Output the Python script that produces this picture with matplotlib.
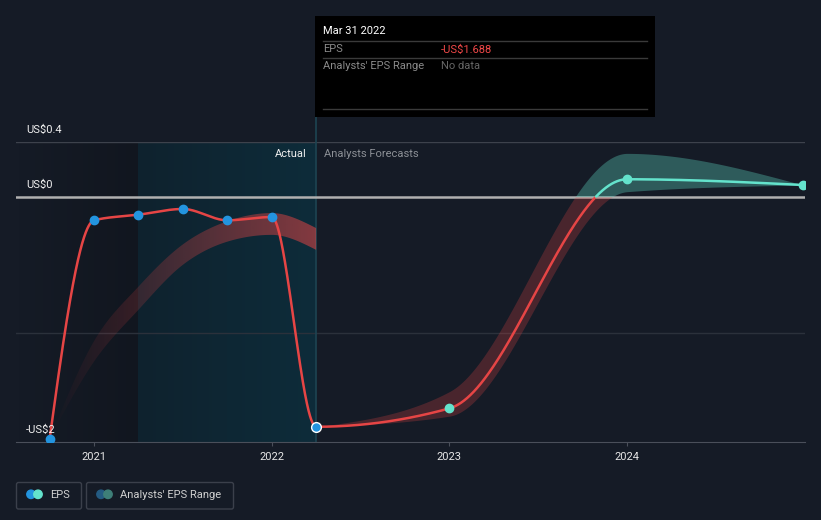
import numpy as np
import matplotlib.pyplot as plt
from matplotlib.patches import Rectangle, Circle, FancyBboxPatch, PathPatch

plt.rcParams['font.family'] = ['Roboto', 'DejaVu Sans']

# EPS (US$), quarter ends as decimal years; first 7 are actuals, the rest forecasts
dates = [2020.75, 2021.0, 2021.25, 2021.5, 2021.75, 2022.0, 2022.25, 2023.0, 2024.0, 2024.99]
eps = [-1.78, -0.173, -0.132, -0.090, -0.173, -0.149, -1.688, -1.553, 0.128, 0.086]
n_actual = 7

# past analyst estimate range
past_dates = [2020.75, 2021.0, 2021.25, 2021.5, 2021.75, 2022.0, 2022.25]
past_low = [-1.78, -1.21, -0.83, -0.50, -0.33, -0.28, -0.39]
past_high = [-1.78, -1.06, -0.66, -0.35, -0.18, -0.12, -0.23]

# forward analyst range
fc_dates = [2022.25, 2023.0, 2024.0, 2024.99]
fc_low = [-1.688, -1.61, 0.037, 0.086]
fc_high = [-1.688, -1.43, 0.318, 0.086]

year_ticks = [2021, 2022, 2023, 2024]
y_labels = [(0.4, "US$0.4"), (0.0, "US$0"), (-1.80, "-US$2")]

BG = "#151b26"
RED = "#e64545"
TEAL = "#64e3cc"
BLUE = "#2394df"


def monotone_x(x, y, n=200):
    # same curve as d3.curveMonotoneX
    x = np.asarray(x, float)
    y = np.asarray(y, float)
    h = np.diff(x)
    s = np.diff(y) / h
    m = np.zeros_like(y)
    for i in range(1, len(x) - 1):
        p = (s[i - 1] * h[i] + s[i] * h[i - 1]) / (h[i - 1] + h[i])
        m[i] = (np.sign(s[i - 1]) + np.sign(s[i])) * min(abs(s[i - 1]), abs(s[i]), 0.5 * abs(p))
    m[0] = (3 * s[0] - m[1]) / 2
    m[-1] = (3 * s[-1] - m[-2]) / 2
    xs, ys = [], []
    for i in range(len(h)):
        t = np.linspace(0, 1, n, endpoint=(i == len(h) - 1))
        h00 = 2 * t**3 - 3 * t**2 + 1
        h10 = t**3 - 2 * t**2 + t
        h01 = -2 * t**3 + 3 * t**2
        h11 = t**3 - t**2
        xs.append(x[i] + t * h[i])
        ys.append(h00 * y[i] + h10 * h[i] * m[i] + h01 * y[i + 1] + h11 * h[i] * m[i + 1])
    return np.concatenate(xs), np.concatenate(ys)


fig = plt.figure(figsize=(8.21, 5.2), dpi=100)
fig.patch.set_facecolor(BG)

ax = fig.add_axes([16 / 821, 77.7 / 520, 789 / 821, 300.1 / 520])
ax.set_facecolor("none")
xmin, xmax = 2020.5611, 2025.0011
ymin, ymax = -1.802, 0.40

# shaded background regions
g = np.zeros((1, 256, 4))
g[..., 3] = np.linspace(0.0, 0.18, 256)
ax.imshow(g, extent=[xmin, dates[2], ymin, ymax], aspect="auto", zorder=0)
g2 = np.zeros((1, 256, 4))
g2[..., 0] = np.linspace(15, 13, 256) / 255
g2[..., 1] = np.linspace(34, 44, 256) / 255
g2[..., 2] = np.linspace(46, 58, 256) / 255
g2[..., 3] = 1
ax.imshow(g2, extent=[dates[2], dates[n_actual - 1], ymin, ymax], aspect="auto", zorder=0)

# grid lines
ax.axhline(0.4, color="#3d424c", lw=1, zorder=1)
ax.axhline(-1.0, color="#2b313b", lw=1, zorder=1)
ax.axhline(0.0, color="#b0b0b0", lw=1.8, zorder=1.5)
ax.plot([dates[n_actual - 1]] * 2, [ymin, 0.585], color="#1d4452", lw=1.2,
        clip_on=False, zorder=1.2)

# past range band with gradient
px, plo = monotone_x(past_dates, past_low)
_, phi = monotone_x(past_dates, past_high)
band = ax.fill_between(px, plo, phi, color="none", lw=0)
clip = PathPatch(band.get_paths()[0], transform=ax.transData, facecolor="none", edgecolor="none")
ax.add_patch(clip)
gr = np.zeros((1, 256, 4))
gr[..., :3] = np.array([230, 69, 69]) / 255
gr[..., 3] = np.linspace(0.0, 0.55, 256)
im = ax.imshow(gr, extent=[past_dates[0], past_dates[-1], ymin, ymax], aspect="auto", zorder=2)
im.set_clip_path(clip)

# forecast range band
fx, flo = monotone_x(fc_dates, fc_low)
_, fhi = monotone_x(fc_dates, fc_high)
ax.fill_between(fx, np.minimum(flo, 0), np.minimum(fhi, 0), color=RED, alpha=0.25, lw=0, zorder=2)
ax.fill_between(fx, np.maximum(flo, 0), np.maximum(fhi, 0), color=TEAL, alpha=0.32, lw=0, zorder=2)

# EPS line, red below zero, teal above
lx, ly = monotone_x(dates, eps, n=400)
ax.plot(lx, np.where(ly <= 0, ly, np.nan), color=RED, lw=1.8, zorder=3, solid_capstyle="round")
ax.plot(lx, np.where(ly >= 0, ly, np.nan), color=TEAL, lw=1.8, zorder=3, solid_capstyle="round")

ax.plot(dates[:n_actual - 1], eps[:n_actual - 1], "o", color=BLUE, ms=6, zorder=4)
ax.plot(dates[n_actual - 1], eps[n_actual - 1], "o", color=BLUE, ms=7, mec="white", mew=1, zorder=4)
ax.plot(dates[n_actual:], eps[n_actual:], "o", color=TEAL, ms=6, zorder=4)

ax.set_xlim(xmin, xmax)
ax.set_ylim(ymin, ymax)
for side in ["top", "right", "left"]:
    ax.spines[side].set_visible(False)
ax.spines["bottom"].set_color("#4a4f5a")
ax.set_yticks([])
ax.set_xticks(year_ticks)
ax.set_xticklabels([str(y) for y in year_ticks])
ax.tick_params(axis="x", length=3, color="#4a4f5a", pad=4, labelsize=8, labelcolor="#e6e6e6")

for v, t in y_labels:
    ax.annotate(t, xy=(0, v), xycoords=("axes fraction", "data"), xytext=(10, 12),
                textcoords="offset pixels", ha="left", va="center", fontsize=8,
                color="#f0f0f0", zorder=6, annotation_clip=False)

ax.annotate("Actual", xy=(dates[n_actual - 1], 1), xycoords=("data", "axes fraction"),
            xytext=(-9, -12), textcoords="offset pixels", ha="right", va="center",
            fontsize=8, color="#f0f0f0", zorder=6)
ax.annotate("Analysts Forecasts", xy=(dates[n_actual - 1], 1), xycoords=("data", "axes fraction"),
            xytext=(8, -12), textcoords="offset pixels", ha="left", va="center",
            fontsize=8, color="#8c9096", zorder=6)

# overlay for tooltip and legend, pixel coordinates
ov = fig.add_axes([0, 0, 1, 1], zorder=5)
ov.set_xlim(0, 821)
ov.set_ylim(520, 0)
ov.axis("off")
ov.patch.set_visible(False)

ov.add_patch(Rectangle((315, 16), 340, 101, facecolor="black", edgecolor="none"))
for yy in [41.3, 58.3, 109.3]:
    ov.plot([323, 647], [yy, yy], color="#3a3a3a", lw=1)
ov.text(323, 31, "Mar 31 2022", fontsize=8, color="white", va="center")
ov.text(323, 49.5, "EPS", fontsize=8, color="#8a8a8a", va="center")
ov.text(441, 49.5, "-US$1.688", fontsize=8, color="#f04848", va="center")
ov.text(323, 66, "Analysts' EPS Range", fontsize=8, color="#8a8a8a", va="center")
ov.text(441, 66, "No data", fontsize=8, color="#666666", va="center")

# legend
for x0, w in [(16.5, 65), (86.5, 147)]:
    ov.add_patch(FancyBboxPatch((x0, 482.5), w, 26.5, boxstyle="round,pad=0,rounding_size=2",
                                facecolor="none", edgecolor="#3b404b", lw=1))
ov.add_patch(Circle((31, 494.3), 4.2, color=BLUE))
ov.add_patch(Circle((38, 494.3), 4.2, color=TEAL))
ov.text(50, 494.5, "EPS", fontsize=8, color="#d0d0d0", va="center")
ov.add_patch(Circle((101, 494.3), 4.2, color="#245b82"))
ov.add_patch(Circle((108, 494.3), 4.2, color="#3e7f78"))
ov.text(120, 494.5, "Analysts' EPS Range", fontsize=8, color="#d0d0d0", va="center")

fig.savefig("out.png", dpi=100, facecolor=BG)
